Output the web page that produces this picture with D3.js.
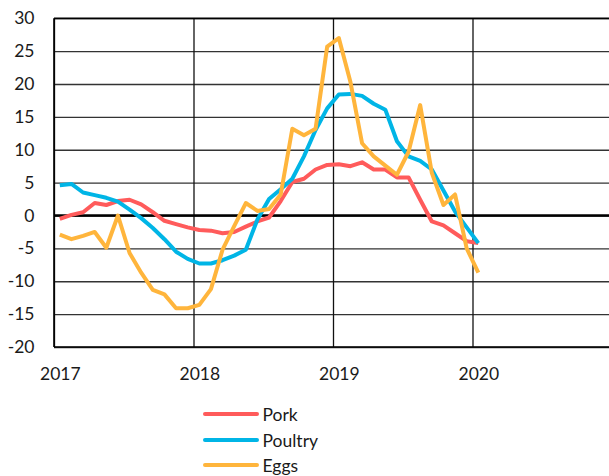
<!DOCTYPE html>
<html>
<head>
<meta charset="utf-8">
<script src="https://cdn.jsdelivr.net/npm/d3@7"></script>
<style>
  html, body { margin: 0; padding: 0; background: #fff; }
  svg { display: block; }
  text { font-family: Lato, "Noto Sans", sans-serif; fill: #1a1a1a; }
</style>
</head>
<body>
<svg id="chart" width="609" height="476"></svg>
<script>
// ---- data (monthly, Jan 2017 .. Jan 2020, % y/y) ----
const months = d3.range(37).map(i => 2017 + (i + 0.5) / 12);
const seriesNames = ["Pork", "Poultry", "Eggs"];
const pork = [-0.5, 0.1, 0.5, 1.9, 1.6, 2.2, 2.4, 1.7, 0.5, -0.8, -1.3, -1.8,
  -2.2, -2.3, -2.7, -2.5, -1.7, -0.9, -0.3, 2.2, 5.1, 5.6, 7.0, 7.7,
  7.8, 7.5, 8.1, 7.0, 7.0, 5.8, 5.8, 2.4, -0.9, -1.5, -2.7, -3.9, -4.2];
const poultry = [4.6, 4.8, 3.5, 3.1, 2.7, 2.1, 0.9, -0.4, -1.9, -3.6, -5.5, -6.6,
  -7.3, -7.3, -6.8, -6.1, -5.2, -0.6, 2.5, 4.0, 5.6, 9.0, 13.0, 16.3,
  18.4, 18.5, 18.2, 17.0, 16.1, 11.3, 9.0, 8.3, 7.0, 3.8, 0.6, -1.8, -4.2];
const eggs = [-2.9, -3.6, -3.1, -2.5, -4.9, 0.0, -5.7, -8.7, -11.3, -12.0, -14.1, -14.1,
  -13.6, -11.2, -5.2, -1.6, 1.9, 0.7, 1.0, 3.2, 13.2, 12.2, 13.2, 25.7,
  27.0, 20.3, 11.0, 9.0, 7.6, 6.2, 9.7, 16.8, 6.5, 1.6, 3.2, -5.0, -8.7];
const yTicks = [-20, -15, -10, -5, 0, 5, 10, 15, 20, 25, 30];
const xTicks = [2017, 2018, 2019, 2020, 2021];
const colors = ["#FF5B5B", "#00B5E6", "#FFB53C"];

const seriesValues = [pork, poultry, eggs];

// ---- layout ----
const svg = d3.select("#chart");
const mLeft = 54, mRight = 612, mTop = 18.3, mBottom = 347;
const x = d3.scaleLinear().domain([2017, 2021]).range([mLeft, mRight]);
const y = d3.scaleLinear().domain([-20, 30]).range([mBottom, mTop]);
const font = "Lato, 'Noto Sans', sans-serif";

// horizontal grid + y labels
const yAxis = d3.axisLeft(y).tickValues(yTicks).tickSize(-(mRight - mLeft)).tickPadding(19.5)
  .tickFormat(d => String(d));
const gy = svg.append("g").attr("transform", `translate(${mLeft},0)`).call(yAxis);
gy.select(".domain").remove();
gy.selectAll(".tick line").attr("stroke", "#333").attr("stroke-width", 1.4);
gy.selectAll(".tick text").attr("font-size", 17.5).style("font-family", font).attr("fill", "#1a1a1a");

// vertical grid + x labels
const xAxis = d3.axisBottom(x).tickValues(xTicks).tickSize(-(mBottom - mTop)).tickPadding(20.5)
  .tickFormat(d => String(d));
const gx = svg.append("g").attr("transform", `translate(0,${mBottom})`).call(xAxis);
gx.select(".domain").remove();
gx.selectAll(".tick line").attr("stroke", "#111").attr("stroke-width", 1.3);
gx.selectAll(".tick text").attr("font-size", 17.5).attr("dx", x(2017 + 0.5 / 12) - x(2017))
  .style("font-family", font).attr("fill", "#1a1a1a")
  .text(d => d <= 2020 ? String(d) : "");

// borders
svg.append("line").attr("x1", mLeft).attr("x2", mLeft).attr("y1", mTop).attr("y2", mBottom)
  .attr("stroke", "#000").attr("stroke-width", 1.6);
svg.append("line").attr("x1", mLeft).attr("x2", mRight).attr("y1", y(30)).attr("y2", y(30))
  .attr("stroke", "#000").attr("stroke-width", 1.4);
svg.append("line").attr("x1", mLeft).attr("x2", mRight).attr("y1", y(-20)).attr("y2", y(-20))
  .attr("stroke", "#000").attr("stroke-width", 1.4);
// zero line
svg.append("line").attr("x1", mLeft).attr("x2", mRight).attr("y1", y(0)).attr("y2", y(0))
  .attr("stroke", "#000").attr("stroke-width", 2.6);

// lines
const line = d3.line().x((d, i) => x(months[i])).y(d => y(d));
seriesValues.forEach((vals, k) => {
  svg.append("path").datum(vals).attr("d", line)
    .attr("fill", "none").attr("stroke", colors[k]).attr("stroke-width", 4)
    .attr("stroke-linejoin", "round").attr("stroke-linecap", "butt");
});

// legend
const legendY = [414, 440, 465];
seriesNames.forEach((name, k) => {
  svg.append("line").attr("x1", 205).attr("x2", 257).attr("y1", legendY[k]).attr("y2", legendY[k])
    .attr("stroke", colors[k]).attr("stroke-width", 4).attr("stroke-linecap", "round");
  svg.append("text").attr("x", 262.5).attr("y", legendY[k] + 7).attr("font-size", 17.5)
    .style("font-family", font).text(name);
});
</script>
</body>
</html>
